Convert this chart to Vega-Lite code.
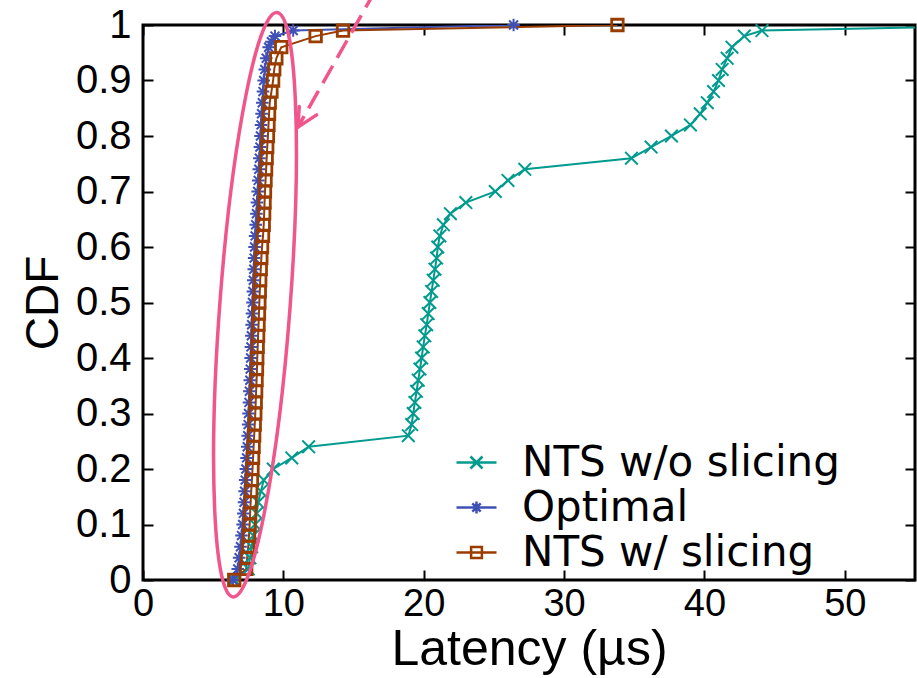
{
  "$schema": "https://vega.github.io/schema/vega-lite/v6.json",
  "width": 772,
  "height": 555,
  "autosize": "none",
  "padding": {"left": 143, "top": 25, "right": 2, "bottom": 98},
  "background": "white",
  "config": {
    "view": {"stroke": "black", "strokeWidth": 3},
    "axis": {
      "grid": false,
      "domain": false,
      "tickColor": "black",
      "tickWidth": 2,
      "tickSize": -10,
      "labelFont": "Liberation Sans",
      "labelFontSize": 40,
      "labelColor": "black",
      "titleFont": "Liberation Sans",
      "titleColor": "black",
      "titleFontWeight": "normal"
    }
  },
  "datasets": {
    "cdf": [
      {"series": "NTS w/o slicing", "x": 6.5, "y": 0},
      {"series": "NTS w/o slicing", "x": 7.5, "y": 0.02},
      {"series": "NTS w/o slicing", "x": 7.62, "y": 0.04},
      {"series": "NTS w/o slicing", "x": 7.74, "y": 0.06},
      {"series": "NTS w/o slicing", "x": 7.86, "y": 0.08},
      {"series": "NTS w/o slicing", "x": 7.98, "y": 0.1},
      {"series": "NTS w/o slicing", "x": 8.1, "y": 0.12},
      {"series": "NTS w/o slicing", "x": 8.21, "y": 0.14},
      {"series": "NTS w/o slicing", "x": 8.4, "y": 0.16},
      {"series": "NTS w/o slicing", "x": 8.6, "y": 0.18},
      {"series": "NTS w/o slicing", "x": 9.28, "y": 0.2},
      {"series": "NTS w/o slicing", "x": 10.6, "y": 0.22},
      {"series": "NTS w/o slicing", "x": 11.8, "y": 0.24},
      {"series": "NTS w/o slicing", "x": 18.9, "y": 0.26},
      {"series": "NTS w/o slicing", "x": 19.14, "y": 0.28},
      {"series": "NTS w/o slicing", "x": 19.25, "y": 0.3},
      {"series": "NTS w/o slicing", "x": 19.37, "y": 0.32},
      {"series": "NTS w/o slicing", "x": 19.49, "y": 0.34},
      {"series": "NTS w/o slicing", "x": 19.61, "y": 0.36},
      {"series": "NTS w/o slicing", "x": 19.73, "y": 0.38},
      {"series": "NTS w/o slicing", "x": 19.85, "y": 0.4},
      {"series": "NTS w/o slicing", "x": 19.96, "y": 0.42},
      {"series": "NTS w/o slicing", "x": 20.08, "y": 0.44},
      {"series": "NTS w/o slicing", "x": 20.21, "y": 0.46},
      {"series": "NTS w/o slicing", "x": 20.32, "y": 0.48},
      {"series": "NTS w/o slicing", "x": 20.44, "y": 0.5},
      {"series": "NTS w/o slicing", "x": 20.56, "y": 0.52},
      {"series": "NTS w/o slicing", "x": 20.68, "y": 0.54},
      {"series": "NTS w/o slicing", "x": 20.8, "y": 0.56},
      {"series": "NTS w/o slicing", "x": 20.92, "y": 0.58},
      {"series": "NTS w/o slicing", "x": 21.0, "y": 0.6},
      {"series": "NTS w/o slicing", "x": 21.15, "y": 0.62},
      {"series": "NTS w/o slicing", "x": 21.4, "y": 0.64},
      {"series": "NTS w/o slicing", "x": 21.9, "y": 0.66},
      {"series": "NTS w/o slicing", "x": 23.0, "y": 0.68},
      {"series": "NTS w/o slicing", "x": 25.1, "y": 0.7},
      {"series": "NTS w/o slicing", "x": 26.0, "y": 0.72},
      {"series": "NTS w/o slicing", "x": 27.2, "y": 0.74},
      {"series": "NTS w/o slicing", "x": 34.8, "y": 0.76},
      {"series": "NTS w/o slicing", "x": 36.2, "y": 0.78},
      {"series": "NTS w/o slicing", "x": 37.65, "y": 0.8},
      {"series": "NTS w/o slicing", "x": 39.0, "y": 0.82},
      {"series": "NTS w/o slicing", "x": 39.7, "y": 0.84},
      {"series": "NTS w/o slicing", "x": 40.2, "y": 0.86},
      {"series": "NTS w/o slicing", "x": 40.65, "y": 0.88},
      {"series": "NTS w/o slicing", "x": 41.0, "y": 0.9},
      {"series": "NTS w/o slicing", "x": 41.26, "y": 0.92},
      {"series": "NTS w/o slicing", "x": 41.62, "y": 0.94},
      {"series": "NTS w/o slicing", "x": 41.96, "y": 0.96},
      {"series": "NTS w/o slicing", "x": 42.84, "y": 0.98},
      {"series": "NTS w/o slicing", "x": 44.1, "y": 0.99},
      {"series": "NTS w/o slicing", "x": 58, "y": 0.997},
      {"series": "Optimal", "x": 6.4, "y": 0},
      {"series": "Optimal", "x": 6.75, "y": 0.02},
      {"series": "Optimal", "x": 6.85, "y": 0.04},
      {"series": "Optimal", "x": 6.95, "y": 0.06},
      {"series": "Optimal", "x": 7.02, "y": 0.08},
      {"series": "Optimal", "x": 7.1, "y": 0.1},
      {"series": "Optimal", "x": 7.15, "y": 0.12},
      {"series": "Optimal", "x": 7.2, "y": 0.14},
      {"series": "Optimal", "x": 7.24, "y": 0.16},
      {"series": "Optimal", "x": 7.28, "y": 0.18},
      {"series": "Optimal", "x": 7.33, "y": 0.2},
      {"series": "Optimal", "x": 7.38, "y": 0.22},
      {"series": "Optimal", "x": 7.43, "y": 0.24},
      {"series": "Optimal", "x": 7.46, "y": 0.26},
      {"series": "Optimal", "x": 7.49, "y": 0.28},
      {"series": "Optimal", "x": 7.52, "y": 0.3},
      {"series": "Optimal", "x": 7.55, "y": 0.32},
      {"series": "Optimal", "x": 7.58, "y": 0.34},
      {"series": "Optimal", "x": 7.61, "y": 0.36},
      {"series": "Optimal", "x": 7.64, "y": 0.38},
      {"series": "Optimal", "x": 7.67, "y": 0.4},
      {"series": "Optimal", "x": 7.69, "y": 0.42},
      {"series": "Optimal", "x": 7.72, "y": 0.44},
      {"series": "Optimal", "x": 7.74, "y": 0.46},
      {"series": "Optimal", "x": 7.77, "y": 0.48},
      {"series": "Optimal", "x": 7.8, "y": 0.5},
      {"series": "Optimal", "x": 7.83, "y": 0.52},
      {"series": "Optimal", "x": 7.86, "y": 0.54},
      {"series": "Optimal", "x": 7.89, "y": 0.56},
      {"series": "Optimal", "x": 7.92, "y": 0.58},
      {"series": "Optimal", "x": 7.95, "y": 0.6},
      {"series": "Optimal", "x": 7.99, "y": 0.62},
      {"series": "Optimal", "x": 8.03, "y": 0.64},
      {"series": "Optimal", "x": 8.08, "y": 0.66},
      {"series": "Optimal", "x": 8.12, "y": 0.68},
      {"series": "Optimal", "x": 8.17, "y": 0.7},
      {"series": "Optimal", "x": 8.21, "y": 0.72},
      {"series": "Optimal", "x": 8.25, "y": 0.74},
      {"series": "Optimal", "x": 8.29, "y": 0.76},
      {"series": "Optimal", "x": 8.33, "y": 0.78},
      {"series": "Optimal", "x": 8.37, "y": 0.8},
      {"series": "Optimal", "x": 8.41, "y": 0.82},
      {"series": "Optimal", "x": 8.45, "y": 0.84},
      {"series": "Optimal", "x": 8.5, "y": 0.86},
      {"series": "Optimal", "x": 8.55, "y": 0.88},
      {"series": "Optimal", "x": 8.6, "y": 0.9},
      {"series": "Optimal", "x": 8.68, "y": 0.92},
      {"series": "Optimal", "x": 8.78, "y": 0.94},
      {"series": "Optimal", "x": 8.95, "y": 0.96},
      {"series": "Optimal", "x": 9.15, "y": 0.97},
      {"series": "Optimal", "x": 9.4, "y": 0.98},
      {"series": "Optimal", "x": 10.7, "y": 0.99},
      {"series": "Optimal", "x": 26.4, "y": 1.0},
      {"series": "NTS w/ slicing", "x": 6.5, "y": 0},
      {"series": "NTS w/ slicing", "x": 7.35, "y": 0.02},
      {"series": "NTS w/ slicing", "x": 7.42, "y": 0.04},
      {"series": "NTS w/ slicing", "x": 7.5, "y": 0.06},
      {"series": "NTS w/ slicing", "x": 7.55, "y": 0.08},
      {"series": "NTS w/ slicing", "x": 7.6, "y": 0.1},
      {"series": "NTS w/ slicing", "x": 7.63, "y": 0.12},
      {"series": "NTS w/ slicing", "x": 7.67, "y": 0.14},
      {"series": "NTS w/ slicing", "x": 7.71, "y": 0.16},
      {"series": "NTS w/ slicing", "x": 7.76, "y": 0.18},
      {"series": "NTS w/ slicing", "x": 7.8, "y": 0.2},
      {"series": "NTS w/ slicing", "x": 7.84, "y": 0.22},
      {"series": "NTS w/ slicing", "x": 7.88, "y": 0.24},
      {"series": "NTS w/ slicing", "x": 7.92, "y": 0.26},
      {"series": "NTS w/ slicing", "x": 7.96, "y": 0.28},
      {"series": "NTS w/ slicing", "x": 8.0, "y": 0.3},
      {"series": "NTS w/ slicing", "x": 8.03, "y": 0.32},
      {"series": "NTS w/ slicing", "x": 8.06, "y": 0.34},
      {"series": "NTS w/ slicing", "x": 8.09, "y": 0.36},
      {"series": "NTS w/ slicing", "x": 8.12, "y": 0.38},
      {"series": "NTS w/ slicing", "x": 8.14, "y": 0.4},
      {"series": "NTS w/ slicing", "x": 8.17, "y": 0.42},
      {"series": "NTS w/ slicing", "x": 8.2, "y": 0.44},
      {"series": "NTS w/ slicing", "x": 8.23, "y": 0.46},
      {"series": "NTS w/ slicing", "x": 8.26, "y": 0.48},
      {"series": "NTS w/ slicing", "x": 8.29, "y": 0.5},
      {"series": "NTS w/ slicing", "x": 8.32, "y": 0.52},
      {"series": "NTS w/ slicing", "x": 8.35, "y": 0.54},
      {"series": "NTS w/ slicing", "x": 8.39, "y": 0.56},
      {"series": "NTS w/ slicing", "x": 8.43, "y": 0.58},
      {"series": "NTS w/ slicing", "x": 8.48, "y": 0.6},
      {"series": "NTS w/ slicing", "x": 8.55, "y": 0.62},
      {"series": "NTS w/ slicing", "x": 8.6, "y": 0.64},
      {"series": "NTS w/ slicing", "x": 8.63, "y": 0.66},
      {"series": "NTS w/ slicing", "x": 8.66, "y": 0.68},
      {"series": "NTS w/ slicing", "x": 8.69, "y": 0.7},
      {"series": "NTS w/ slicing", "x": 8.73, "y": 0.72},
      {"series": "NTS w/ slicing", "x": 8.77, "y": 0.74},
      {"series": "NTS w/ slicing", "x": 8.81, "y": 0.76},
      {"series": "NTS w/ slicing", "x": 8.85, "y": 0.78},
      {"series": "NTS w/ slicing", "x": 8.9, "y": 0.8},
      {"series": "NTS w/ slicing", "x": 8.94, "y": 0.82},
      {"series": "NTS w/ slicing", "x": 8.98, "y": 0.84},
      {"series": "NTS w/ slicing", "x": 9.03, "y": 0.86},
      {"series": "NTS w/ slicing", "x": 9.15, "y": 0.88},
      {"series": "NTS w/ slicing", "x": 9.27, "y": 0.9},
      {"series": "NTS w/ slicing", "x": 9.35, "y": 0.92},
      {"series": "NTS w/ slicing", "x": 9.5, "y": 0.94},
      {"series": "NTS w/ slicing", "x": 9.85, "y": 0.96},
      {"series": "NTS w/ slicing", "x": 12.3, "y": 0.98},
      {"series": "NTS w/ slicing", "x": 14.25, "y": 0.99},
      {"series": "NTS w/ slicing", "x": 33.8, "y": 1.0}
    ],
    "ellipse": [{"x": 7.98, "y": 0.496}],
    "shaft": [{"x": 16.57, "y": 1.063, "x2": 11.04, "y2": 0.816}],
    "head": [
      {"x": 11.04, "y": 0.816, "x2": 11.13, "y2": 0.853},
      {"x": 11.04, "y": 0.816, "x2": 12.37, "y2": 0.838}
    ]
  },
  "layer": [
    {
      "data": {"name": "cdf"},
      "mark": {"type": "line", "clip": true, "strokeWidth": 2},
      "encoding": {
        "x": {
          "field": "x", "type": "quantitative",
          "scale": {"domain": [0, 55], "nice": false, "zero": false},
          "axis": {"values": [0, 10, 20, 30, 40, 50], "title": "Latency (µs)", "titleFontSize": 50, "labelFontSize": 38, "labelPadding": 15, "titlePadding": 1, "labelFlush": false}
        },
        "y": {
          "field": "y", "type": "quantitative",
          "scale": {"domain": [0, 1], "nice": false},
          "axis": {"values": [0, 0.1, 0.2, 0.3, 0.4, 0.5, 0.6, 0.7, 0.8, 0.9, 1], "format": ".1~f", "title": "CDF", "titleFontSize": 46, "labelPadding": 22, "titlePadding": 8, "labelFlush": false}
        },
        "color": {
          "field": "series", "type": "nominal",
          "scale": {"domain": ["NTS w/o slicing", "Optimal", "NTS w/ slicing"], "range": ["#009B8E", "#3F51B5", "#9A3C00"]},
          "legend": {
            "orient": "none", "legendX": 312, "legendY": 416,
            "title": null, "padding": 0,
            "labelFont": "DejaVu Sans", "labelFontSize": 42, "labelColor": "black", "labelLimit": 0,
            "symbolSize": 1600, "symbolStrokeWidth": 2.5, "rowPadding": 2, "labelOffset": 24,
            "encode": {
              "symbols": {
                "update": {
                  "shape": {"signal": "datum.value === 'Optimal' ? 'M-1,0H1M-0.3,0H0.3M0,-0.3V0.3M-0.21,-0.21L0.21,0.21M-0.21,0.21L0.21,-0.21' : (datum.value === 'NTS w/ slicing' ? 'M-1,0H1M-0.27,-0.27H0.27V0.27H-0.27Z' : 'M-1,0H1M-0.3,-0.3L0.3,0.3M-0.3,0.3L0.3,-0.3')"},
                  "fill": {"value": "transparent"},
                  "strokeWidth": {"value": 2.5}
                }
              }
            }
          }
        },
        "order": {"field": "y", "type": "quantitative"}
      }
    },
    {
      "data": {"name": "cdf"},
      "transform": [{"filter": "datum.series === 'NTS w/o slicing' && datum.x <= 55"}],
      "mark": {"type": "point", "filled": false, "strokeWidth": 2, "size": 196, "opacity": 1, "color": "#009B8E", "shape": "M-0.9,-0.9L0.9,0.9M-0.9,0.9L0.9,-0.9"},
      "encoding": {
        "x": {"field": "x", "type": "quantitative", "axis": {"orient": "top", "labels": false, "title": null, "values": [0, 10, 20, 30, 40, 50]}},
        "y": {"field": "y", "type": "quantitative", "axis": {"orient": "right", "labels": false, "title": null, "values": [0, 0.1, 0.2, 0.3, 0.4, 0.5, 0.6, 0.7, 0.8, 0.9, 1]}}
      }
    },
    {
      "data": {"name": "cdf"},
      "transform": [{"filter": "datum.series === 'Optimal'"}],
      "mark": {"type": "point", "filled": false, "strokeWidth": 2, "size": 196, "opacity": 1, "color": "#3F51B5", "shape": "M-0.9,0H0.9M0,-0.9V0.9M-0.64,-0.64L0.64,0.64M-0.64,0.64L0.64,-0.64"},
      "encoding": {
        "x": {"field": "x", "type": "quantitative", "axis": null},
        "y": {"field": "y", "type": "quantitative", "axis": null}
      }
    },
    {
      "data": {"name": "cdf"},
      "transform": [{"filter": "datum.series === 'NTS w/ slicing'"}],
      "mark": {"type": "point", "filled": false, "strokeWidth": 2.8, "size": 196, "opacity": 1, "color": "#9A3C00", "shape": "M-0.82,-0.82H0.82V0.82H-0.82Z"},
      "encoding": {
        "x": {"field": "x", "type": "quantitative", "axis": null},
        "y": {"field": "y", "type": "quantitative", "axis": null}
      }
    },
    {
      "data": {"name": "ellipse"},
      "mark": {"type": "point", "filled": false, "stroke": "#F0568C", "strokeWidth": 3.5, "size": 343396, "angle": 4.3, "opacity": 1, "shape": "M0,-1C0.0663,-1,0.12,-0.5523,0.12,0C0.12,0.5523,0.0663,1,0,1C-0.0663,1,-0.12,0.5523,-0.12,0C-0.12,-0.5523,-0.0663,-1,0,-1Z"},
      "encoding": {
        "x": {"field": "x", "type": "quantitative", "axis": null},
        "y": {"field": "y", "type": "quantitative", "axis": null}
      }
    },
    {
      "data": {"name": "shaft"},
      "mark": {"type": "rule", "stroke": "#F0568C", "strokeWidth": 3.5, "strokeDash": [20, 9]},
      "encoding": {
        "x": {"field": "x", "type": "quantitative", "axis": null},
        "y": {"field": "y", "type": "quantitative", "axis": null},
        "x2": {"field": "x2"},
        "y2": {"field": "y2"}
      }
    },
    {
      "data": {"name": "head"},
      "mark": {"type": "rule", "stroke": "#F0568C", "strokeWidth": 3.5, "strokeCap": "round"},
      "encoding": {
        "x": {"field": "x", "type": "quantitative", "axis": null},
        "y": {"field": "y", "type": "quantitative", "axis": null},
        "x2": {"field": "x2"},
        "y2": {"field": "y2"}
      }
    }
  ],
  "resolve": {"axis": {"x": "independent", "y": "independent"}}
}
